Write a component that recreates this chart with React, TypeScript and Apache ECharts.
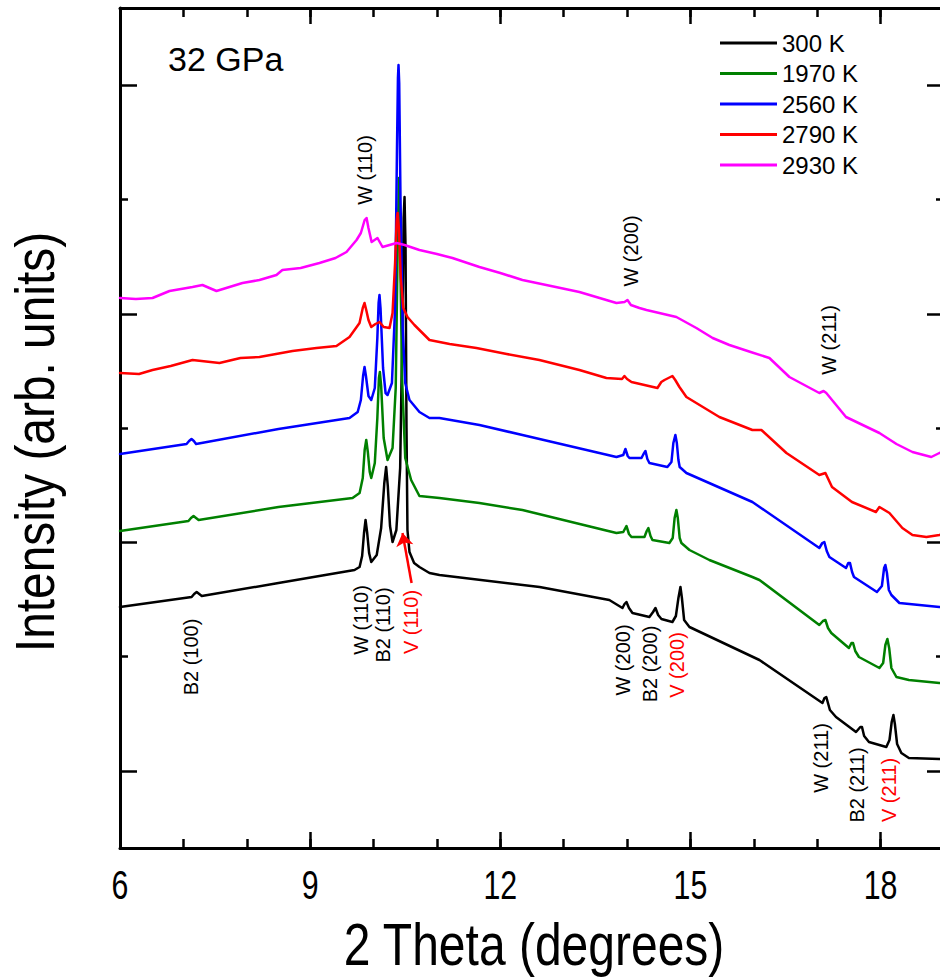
import React, { useEffect, useRef } from "react";
import * as echarts from "echarts";

const seriesNames = ["300 K", "1970 K", "2560 K", "2790 K", "2930 K"];
const seriesColors = ["#000000", "#008000", "#0000ff", "#ff0000", "#ff00ff"];

const curve300K: number[][] = [
  [6.0, 241], [7.13, 251], [7.17, 254], [7.21, 256], [7.25, 254], [7.29, 252], [8.5, 265], [9.7, 278],
  [9.78, 281], [9.82, 292], [9.85, 315], [9.874, 328], [9.9, 315], [9.93, 295], [9.964, 286],
  [10.05, 293], [10.12, 320], [10.17, 365], [10.199, 381], [10.225, 362], [10.26, 322], [10.3, 306],
  [10.36, 318], [10.42, 380], [10.455, 520], [10.475, 630], [10.489, 651], [10.505, 600], [10.52, 420],
  [10.535, 318], [10.567, 296], [10.64, 285], [10.724, 281], [10.882, 275], [11.04, 273], [12.62, 261],
  [13.72, 248], [13.927, 240], [13.96, 244], [13.99, 246], [14.03, 240], [14.085, 235], [14.352, 231],
  [14.41, 236], [14.448, 240], [14.49, 233], [14.542, 229], [14.715, 226], [14.77, 232], [14.81, 250],
  [14.842, 261], [14.865, 250], [14.9, 228], [14.984, 221], [16.088, 188], [17.082, 145], [17.115, 150],
  [17.143, 151], [17.2, 138], [17.296, 131], [17.612, 116], [17.68, 121], [17.706, 121], [17.74, 112],
  [17.816, 106], [18.09, 101], [18.14, 108], [18.175, 126], [18.202, 133], [18.225, 124], [18.26, 104],
  [18.327, 95], [18.446, 90], [18.927, 89], [19.0, 89],
];

const curve1970K: number[][] = [
  [6.0, 317], [7.08, 327], [7.12, 330], [7.16, 332], [7.2, 330], [7.24, 328], [8.5, 341], [9.669, 350],
  [9.78, 355], [9.83, 370], [9.86, 398], [9.885, 408], [9.91, 396], [9.94, 376], [9.964, 370],
  [10.02, 385], [10.06, 430], [10.085, 470], [10.1, 476], [10.12, 462], [10.16, 410], [10.221, 388],
  [10.3, 400], [10.35, 460], [10.38, 600], [10.4, 670], [10.42, 600], [10.45, 470], [10.5, 390],
  [10.593, 368], [10.724, 352], [11.04, 350], [11.67, 345], [12.349, 338], [13.832, 315], [13.94, 316],
  [13.99, 322], [14.03, 314], [14.069, 311], [14.274, 311], [14.31, 317], [14.336, 320], [14.37, 312],
  [14.4, 308], [14.667, 305], [14.72, 310], [14.75, 330], [14.778, 338], [14.8, 330], [14.83, 310],
  [14.857, 305], [14.984, 298], [15.298, 288], [15.977, 271], [16.088, 268], [17.033, 223], [17.09, 227],
  [17.129, 228], [17.17, 220], [17.222, 215], [17.5, 200], [17.54, 205], [17.565, 205], [17.6, 197],
  [17.658, 191], [17.981, 180], [18.04, 185], [18.075, 203], [18.107, 209], [18.135, 200], [18.17, 180],
  [18.249, 171], [18.446, 168], [18.927, 165], [19.0, 165],
];

const curve2560K: number[][] = [
  [6.0, 394], [7.05, 404], [7.09, 407], [7.128, 409], [7.165, 407], [7.2, 404], [8.5, 419], [9.621, 430],
  [9.75, 436], [9.8, 448], [9.835, 472], [9.858, 481], [9.88, 472], [9.92, 452], [9.964, 448],
  [10.02, 460], [10.06, 510], [10.08, 545], [10.094, 553], [10.11, 540], [10.15, 480], [10.19, 455],
  [10.221, 453], [10.29, 465], [10.34, 540], [10.37, 700], [10.385, 770], [10.394, 783], [10.405, 765],
  [10.425, 650], [10.46, 520], [10.5, 465], [10.567, 448], [10.724, 436], [10.882, 430], [11.039, 430],
  [11.671, 423], [12.349, 413], [13.832, 391], [13.94, 393], [13.974, 399], [14.01, 392], [14.037, 390],
  [14.227, 390], [14.26, 394], [14.29, 397], [14.32, 389], [14.352, 385], [14.636, 381], [14.7, 386],
  [14.73, 405], [14.762, 413], [14.785, 405], [14.81, 388], [14.83, 381], [14.936, 375], [15.977, 346],
  [17.033, 300], [17.08, 305], [17.112, 306], [17.15, 297], [17.192, 291], [17.454, 280], [17.49, 285],
  [17.517, 285], [17.55, 276], [17.58, 271], [17.942, 256], [18.02, 262], [18.055, 280], [18.075, 283],
  [18.1, 275], [18.13, 258], [18.17, 253], [18.296, 245], [18.927, 241], [19.0, 241],
];

const curve2790K: number[][] = [
  [6.0, 475], [6.3, 474], [6.513, 478], [6.8, 482], [7.144, 488], [7.569, 485], [7.9, 490], [8.2, 491],
  [8.722, 497], [9.1, 500], [9.415, 502], [9.621, 511], [9.779, 525], [9.83, 540], [9.858, 545],
  [9.885, 538], [9.92, 528], [9.964, 521], [10.03, 524], [10.094, 526], [10.16, 521], [10.252, 520],
  [10.3, 535], [10.34, 585], [10.365, 628], [10.38, 635], [10.4, 620], [10.43, 570], [10.47, 540],
  [10.535, 531], [10.645, 523], [10.882, 508], [11.2, 504], [11.623, 500], [12.1, 494], [12.617, 488],
  [13.248, 478], [13.674, 470], [13.92, 469], [13.958, 472], [14.0, 469], [14.069, 466], [14.479, 460],
  [14.54, 466], [14.59, 468], [14.715, 472], [14.76, 468], [14.826, 461], [14.936, 451], [15.456, 431],
  [15.977, 418], [16.119, 418], [16.514, 395], [17.033, 373], [17.129, 375], [17.233, 361], [17.548, 346],
  [17.926, 336], [17.981, 341], [18.139, 335], [18.343, 320], [18.502, 313], [18.722, 311], [18.927, 313],
  [19.0, 314],
];

const curve2930K: number[][] = [
  [6.0, 550], [6.25, 549], [6.513, 550], [6.781, 557], [7.144, 561], [7.301, 563], [7.522, 557],
  [7.932, 565], [8.2, 568], [8.468, 573], [8.562, 578], [8.85, 580], [9.147, 585], [9.4, 590],
  [9.573, 596], [9.732, 608], [9.8, 615], [9.86, 628], [9.89, 630], [9.92, 620], [9.97, 606],
  [10.062, 610], [10.142, 601], [10.363, 605], [10.489, 603], [10.724, 598], [11.0, 594], [11.245, 590],
  [11.671, 581], [12.0, 575], [12.349, 568], [12.8, 562], [13.248, 556], [13.832, 545], [13.96, 546],
  [14.006, 548], [14.06, 543], [14.195, 540], [14.306, 538], [14.778, 531], [15.093, 520], [15.35, 510],
  [15.614, 503], [15.95, 496], [16.245, 490], [16.561, 471], [17.033, 455], [17.1, 457], [17.143, 455],
  [17.454, 431], [17.981, 415], [18.25, 404], [18.502, 396], [18.8, 391], [18.927, 395], [19.0, 396],
];

const curves = [curve300K, curve1970K, curve2560K, curve2790K, curve2930K];

const xMin = 6;
const xMax = 19;
const xTickLabels = [6, 9, 12, 15, 18];
const yMin = 0;
const yMax = 840;
const yMajorTicks = [77, 305.6, 534.2, 762.8];
const yMinorTicks = [191.3, 419.9, 648.5];

const xTitle = "2 Theta (degrees)";
const yTitle = "Intensity (arb. units)";
const pressureText = "32 GPa";

const peakLabels = [
  { text: "W (110)", x: 9.858, y: 678, color: "#000000" },
  { text: "W (200)", x: 14.069, y: 597, color: "#000000" },
  { text: "W (211)", x: 17.192, y: 508, color: "#000000" },
  { text: "B2 (100)", x: 7.128, y: 191, color: "#000000" },
  { text: "W (110)", x: 9.81, y: 228, color: "#000000" },
  { text: "B2 (110)", x: 10.156, y: 223, color: "#000000" },
  { text: "V (110)", x: 10.598, y: 226, color: "#ff0000" },
  { text: "W (200)", x: 13.942, y: 188, color: "#000000" },
  { text: "B2 (200)", x: 14.368, y: 184, color: "#000000" },
  { text: "V (200)", x: 14.794, y: 183, color: "#ff0000" },
  { text: "W (211)", x: 17.065, y: 90, color: "#000000" },
  { text: "B2 (211)", x: 17.633, y: 63, color: "#000000" },
  { text: "V (211)", x: 18.139, y: 58, color: "#ff0000" },
];

const arrowFrom = [10.6, 265];
const arrowTo = [10.457, 315];

const mainFont = "'Liberation Sans', Arial, sans-serif";

function xAxisDef(position: "top" | "bottom", major: boolean) {
  return {
    type: "value",
    gridIndex: 0,
    position,
    min: xMin,
    max: xMax,
    interval: major ? 3 : 1,
    axisLine: { show: major, onZero: false, lineStyle: { color: "#000", width: 3 } },
    axisTick: { show: true, inside: true, length: major ? 16 : 9, lineStyle: { color: "#000", width: 2.5 } },
    axisLabel: { show: false },
    splitLine: { show: false },
  };
}

function yAxisDef(position: "left" | "right", major: boolean) {
  return {
    type: "value",
    gridIndex: 0,
    position,
    min: yMin,
    max: yMax,
    axisLine: { show: major, onZero: false, lineStyle: { color: "#000", width: 3 } },
    axisTick: {
      show: true,
      inside: true,
      length: major ? 17 : 8,
      customValues: major ? yMajorTicks : yMinorTicks,
      lineStyle: { color: "#000", width: 2.5 },
    },
    axisLabel: { show: false },
    splitLine: { show: false },
  };
}

export default function App() {
  const ref = useRef<HTMLDivElement>(null);

  useEffect(() => {
    if (!ref.current) return;
    const chart = echarts.init(ref.current, undefined, { renderer: "svg" });

    const option: any = {
      animation: false,
      backgroundColor: "#ffffff",
      grid: { left: 120, top: 8, width: 824, height: 840, containLabel: false },
      legend: {
        data: seriesNames,
        orient: "vertical",
        left: 720,
        top: 31,
        padding: 0,
        icon: "rect",
        itemWidth: 57,
        itemHeight: 3,
        itemGap: 6.5,
        textStyle: { fontSize: 24, fontFamily: mainFont, color: "#000" },
        selectedMode: false,
      },
      xAxis: [xAxisDef("bottom", true), xAxisDef("bottom", false), xAxisDef("top", true), xAxisDef("top", false)],
      yAxis: [yAxisDef("left", true), yAxisDef("left", false), yAxisDef("right", true), yAxisDef("right", false)],
      series: curves.map((d, i) => ({
        name: seriesNames[i],
        type: "line",
        xAxisIndex: 0,
        yAxisIndex: 0,
        data: d,
        symbol: "none",
        showSymbol: false,
        smooth: false,
        lineStyle: { color: seriesColors[i], width: 2.5, join: "round", cap: "round" },
        itemStyle: { color: seriesColors[i] },
        z: 2 + i,
        ...(i === 3
          ? {
              markLine: {
                silent: true,
                symbol: ["none", "arrow"],
                symbolSize: 13,
                label: { show: false },
                lineStyle: { color: "#ff0000", width: 2.5, type: "solid" },
                data: [[{ coord: arrowFrom }, { coord: arrowTo }]],
              },
            }
          : {}),
      })),
    };

    chart.setOption(option);

    const toPx = (x: number, y: number) =>
      chart.convertToPixel({ xAxisIndex: 0, yAxisIndex: 0 }, [x, y]) as number[];

    const graphics: any[] = peakLabels.map((l) => {
      const p = toPx(l.x, l.y);
      return {
        type: "text",
        x: p[0],
        y: p[1],
        rotation: Math.PI / 2,
        silent: true,
        z: 20,
        style: {
          text: l.text,
          fill: l.color,
          fontSize: 20,
          fontFamily: mainFont,
          align: "center",
          verticalAlign: "middle",
        },
      };
    });

    // tick labels positioned through the x axis scale (narrow, Origin-like glyphs)
    xTickLabels.forEach((v) => {
      const p = toPx(v, yMin);
      graphics.push({
        type: "text",
        x: p[0],
        y: p[1] + 37,
        scaleX: 0.74,
        silent: true,
        z: 20,
        style: { text: String(v), fill: "#000", fontSize: 41, fontFamily: mainFont, align: "center", verticalAlign: "middle" },
      });
    });

    const bl = toPx(xMin, yMin);
    const tr = toPx(xMax, yMax);
    graphics.push({
      type: "text",
      x: (bl[0] + tr[0]) / 2 + 2,
      y: bl[1] + 97,
      scaleX: 0.8,
      silent: true,
      z: 20,
      style: { text: xTitle, fill: "#000", fontSize: 60, fontFamily: mainFont, align: "center", verticalAlign: "middle" },
    });
    graphics.push({
      type: "text",
      x: bl[0] - 85,
      y: (bl[1] + tr[1]) / 2 + 14,
      rotation: Math.PI / 2,
      scaleX: 0.855,
      silent: true,
      z: 20,
      style: { text: yTitle, fill: "#000", fontSize: 56, fontFamily: mainFont, align: "center", verticalAlign: "middle" },
    });
    graphics.push({
      type: "text",
      left: 168,
      top: 42,
      silent: true,
      z: 20,
      style: { text: pressureText, fill: "#000", fontSize: 34, fontFamily: mainFont },
    });
    chart.setOption({ graphic: graphics });

    return () => chart.dispose();
  }, []);

  return (
    <div style={{ position: "fixed", left: 0, top: 0, width: 940, height: 979, overflow: "hidden", background: "#fff" }}>
      <div ref={ref} style={{ width: 960, height: 979 }} />
    </div>
  );
}
